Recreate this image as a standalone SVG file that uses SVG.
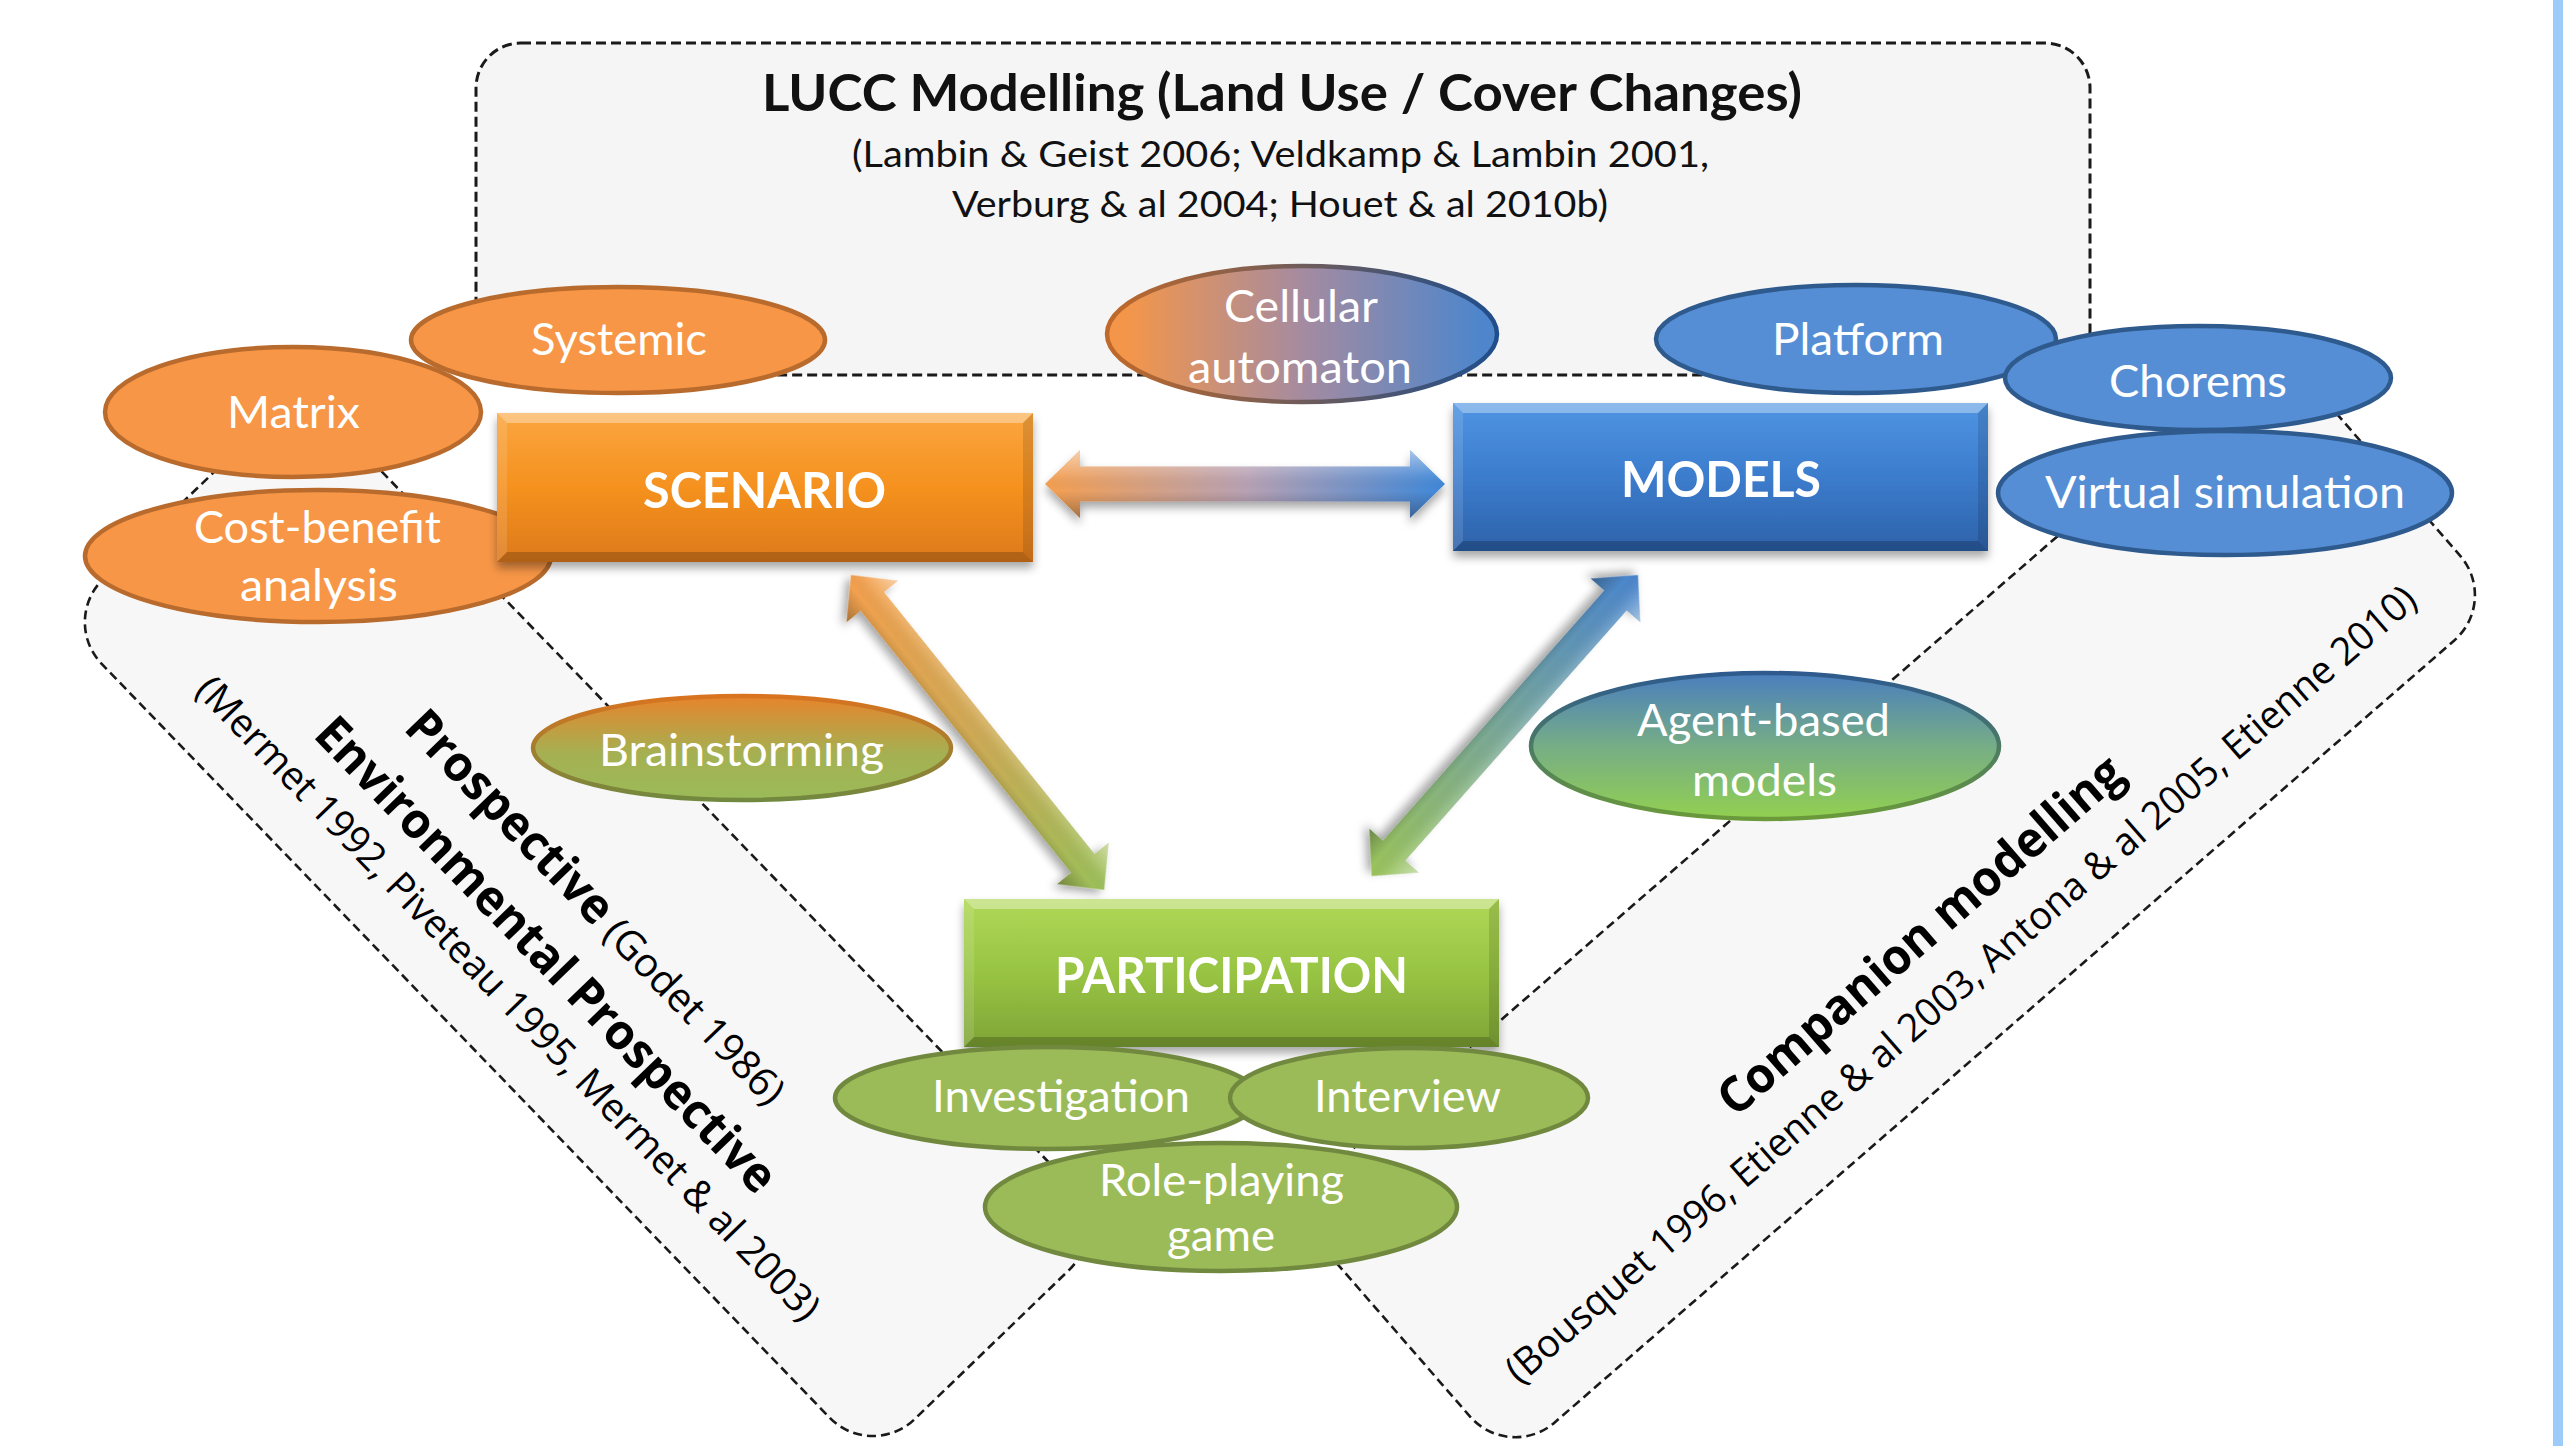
<svg xmlns="http://www.w3.org/2000/svg" width="2575" height="1446" viewBox="0 0 2575 1446">
<defs>
<style>
.lucc{fill:#F5F5F5;stroke:#1a1a1a;stroke-width:3;stroke-dasharray:10 5;}
.zone{fill:#F7F7F7;stroke:#1a1a1a;stroke-width:2.6;stroke-dasharray:9 5;}
.eo{fill:#F79646;stroke:#B86B2D;stroke-width:4.5;}
.eb{fill:#558ED5;stroke:#2E5A8E;stroke-width:4.5;}
.eg{fill:#9BBB59;stroke:#71893F;stroke-width:4.5;}
.lbl{font-family:Lato,'Open Sans',sans-serif;font-size:45px;fill:#ffffff;}
.boxt{font-family:Lato,'Open Sans',sans-serif;font-size:49px;font-weight:bold;fill:#ffffff;}
.ttl{font-family:Lato,'Open Sans',sans-serif;font-size:51px;font-weight:bold;fill:#111111;}
.sub{font-family:Lato,'Open Sans',sans-serif;font-size:36px;fill:#111111;}
.bt{font-family:'Open Sans','Noto Sans',sans-serif;font-weight:bold;font-size:49px;fill:#000000;}
.br{font-family:'Open Sans','Noto Sans',sans-serif;font-size:39px;fill:#000000;}
.hl{fill:#ffffff;fill-opacity:0.35;}
.hs{fill:#ffffff;fill-opacity:0.12;}
.dk{fill:#000000;fill-opacity:0.12;}
.dkb{fill:#000000;fill-opacity:0.2;}
</style>
<filter id="shadow" x="-10%" y="-10%" width="120%" height="130%">
<feDropShadow dx="0" dy="6" stdDeviation="5" flood-color="#000000" flood-opacity="0.35"/>
</filter>
<linearGradient id="gScen" x1="0" y1="0" x2="0" y2="1"><stop offset="0" stop-color="#FBA63F"/><stop offset="0.5" stop-color="#F5911F"/><stop offset="1" stop-color="#DD7A1D"/></linearGradient>
<linearGradient id="gMod" x1="0" y1="0" x2="0" y2="1"><stop offset="0" stop-color="#4F95E3"/><stop offset="0.5" stop-color="#3C7CCD"/><stop offset="1" stop-color="#2D62A9"/></linearGradient>
<linearGradient id="gPar" x1="0" y1="0" x2="0" y2="1"><stop offset="0" stop-color="#B0D857"/><stop offset="0.5" stop-color="#98C443"/><stop offset="1" stop-color="#7FA437"/></linearGradient>
<linearGradient id="gCell" x1="0" y1="0" x2="1" y2="0"><stop offset="0.05" stop-color="#F4964A"/><stop offset="0.5" stop-color="#A58BA0"/><stop offset="0.95" stop-color="#4F86CB"/></linearGradient>
<linearGradient id="gCellS" x1="0" y1="0" x2="1" y2="0"><stop offset="0" stop-color="#C0692A"/><stop offset="1" stop-color="#1F4E8C"/></linearGradient>
<linearGradient id="gBrain" x1="0" y1="0" x2="0" y2="1"><stop offset="0" stop-color="#E7842C"/><stop offset="0.55" stop-color="#A5B052"/><stop offset="1" stop-color="#9BBB59"/></linearGradient>
<linearGradient id="gBrainS" x1="0" y1="0" x2="0" y2="1"><stop offset="0" stop-color="#D9731F"/><stop offset="1" stop-color="#71893F"/></linearGradient>
<linearGradient id="gAgent" x1="0" y1="0" x2="0" y2="1"><stop offset="0" stop-color="#4A7EBE"/><stop offset="0.5" stop-color="#76AD86"/><stop offset="1" stop-color="#92D050"/></linearGradient>
<linearGradient id="gAgentS" x1="0" y1="0" x2="0" y2="1"><stop offset="0" stop-color="#2E5A8E"/><stop offset="1" stop-color="#6A9A3A"/></linearGradient>
<linearGradient id="gAH" x1="0" y1="0" x2="1" y2="0"><stop offset="0" stop-color="#F6A050"/><stop offset="0.5" stop-color="#B9A2B4"/><stop offset="1" stop-color="#3F88DA"/></linearGradient>
<linearGradient id="gAL" x1="0" y1="0" x2="1" y2="0"><stop offset="0" stop-color="#F5A04E"/><stop offset="0.5" stop-color="#CFAA55"/><stop offset="1" stop-color="#9BC05A"/></linearGradient>
<linearGradient id="gAR" x1="0" y1="0" x2="1" y2="0"><stop offset="0" stop-color="#4A85CF"/><stop offset="0.5" stop-color="#78A79A"/><stop offset="1" stop-color="#9BC45A"/></linearGradient>
<linearGradient id="shade" x1="0" y1="0" x2="0" y2="1"><stop offset="0" stop-color="#ffffff" stop-opacity="0.5"/><stop offset="0.35" stop-color="#ffffff" stop-opacity="0.1"/><stop offset="0.6" stop-color="#000000" stop-opacity="0"/><stop offset="1" stop-color="#000000" stop-opacity="0.3"/></linearGradient>
</defs>
<rect x="0" y="0" width="2575" height="1446" fill="#ffffff"/>
<rect x="2553" y="0" width="10" height="1446" fill="#9DCBFA"/>

<g id="lucc">
<rect class="lucc" x="476" y="43" width="1614" height="332" rx="45"/>
<text class="ttl" x="762" y="111" textLength="1040" lengthAdjust="spacingAndGlyphs">LUCC Modelling (Land Use / Cover Changes)</text>
<text class="sub" x="852" y="167" textLength="857" lengthAdjust="spacingAndGlyphs">(Lambin &amp; Geist 2006; Veldkamp &amp; Lambin 2001,</text>
<text class="sub" x="952" y="217" textLength="656" lengthAdjust="spacingAndGlyphs">Verburg &amp; al 2004; Houet &amp; al 2010b)</text>
</g>

<g id="prospective" transform="translate(301,388) rotate(46)">
<rect class="zone" x="0" y="0" width="1168" height="335" rx="60"/>
<text class="bt" x="316" y="164" textLength="276" lengthAdjust="spacingAndGlyphs">Prospective</text>
<text class="br" x="602" y="164" style="font-size:40px" textLength="240" lengthAdjust="spacingAndGlyphs">(Godet 1986)</text>
<text class="bt" x="258" y="234" textLength="640" lengthAdjust="spacingAndGlyphs">Environmental Prospective</text>
<text class="br" x="144" y="288" textLength="878" lengthAdjust="spacingAndGlyphs">(Mermet 1992, Piveteau 1995, Mermet &amp; al 2003)</text>
</g>

<g id="companion" transform="translate(1287,1206) rotate(-41)">
<rect class="zone" x="0" y="0" width="1312" height="339" rx="60"/>
<text class="bt" x="396" y="228" textLength="519" lengthAdjust="spacingAndGlyphs">Companion modelling</text>
<text class="br" x="58" y="288" textLength="1192" lengthAdjust="spacingAndGlyphs">(Bousquet 1996, Etienne &amp; al 2003, Antona &amp; al 2005, Etienne 2010)</text>
</g>

<g id="connectors">
<g transform="translate(1045,484)" filter="url(#shadow)">
<path d="M0,0 L35,-34 L35,-17.5 L365,-17.5 L365,-34 L400,0 L365,34 L365,17.5 L35,17.5 L35,34 Z" fill="url(#gAH)"/>
<path d="M0,0 L35,-34 L35,-17.5 L365,-17.5 L365,-34 L400,0 L365,34 L365,17.5 L35,17.5 L35,34 Z" fill="url(#shade)"/>
</g>
<g transform="translate(851,575) rotate(51.2)" filter="url(#shadow)">
<path d="M0,0 L34,-33 L34,-15 L370,-15 L370,-33 L404,0 L370,33 L370,15 L34,15 L34,33 Z" fill="url(#gAL)"/>
<path d="M0,0 L34,-33 L34,-15 L370,-15 L370,-33 L404,0 L370,33 L370,15 L34,15 L34,33 Z" fill="url(#shade)"/>
</g>
<g transform="translate(1638,575) rotate(131.5)" filter="url(#shadow)">
<path d="M0,0 L34,-33 L34,-15 L368,-15 L368,-33 L402,0 L368,33 L368,15 L34,15 L34,33 Z" fill="url(#gAR)"/>
<path d="M0,0 L34,-33 L34,-15 L368,-15 L368,-33 L402,0 L368,33 L368,15 L34,15 L34,33 Z" fill="url(#shade)"/>
</g>
</g>

<g id="matrix"><ellipse class="eo" cx="293" cy="412" rx="188" ry="65"/><text class="lbl" x="227" y="428" textLength="133" lengthAdjust="spacingAndGlyphs">Matrix</text></g>
<g id="systemic"><ellipse class="eo" cx="618" cy="340" rx="207" ry="53"/><text class="lbl" x="531" y="355" textLength="176" lengthAdjust="spacingAndGlyphs">Systemic</text></g>
<g id="costbenefit"><ellipse class="eo" cx="318" cy="556" rx="233" ry="66"/><text class="lbl" x="194" y="543" textLength="247" lengthAdjust="spacingAndGlyphs">Cost-benefit</text><text class="lbl" x="240" y="601" textLength="158" lengthAdjust="spacingAndGlyphs">analysis</text></g>

<g id="scenario" filter="url(#shadow)">
<rect x="497" y="413" width="536" height="149" fill="url(#gScen)"/>
<polygon class="hl" points="497,413 1033,413 1023,423 507,423"/>
<polygon class="hs" points="497,413 507,423 507,552 497,562"/>
<polygon class="dk" points="1033,413 1033,562 1023,552 1023,423"/>
<polygon class="dkb" points="497,562 507,552 1023,552 1033,562"/>
<text class="boxt" x="643" y="508" textLength="243" lengthAdjust="spacingAndGlyphs">SCENARIO</text>
</g>

<g id="models" filter="url(#shadow)">
<rect x="1453" y="403" width="535" height="148" fill="url(#gMod)"/>
<polygon class="hl" points="1453,403 1988,403 1978,413 1463,413"/>
<polygon class="hs" points="1453,403 1463,413 1463,541 1453,551"/>
<polygon class="dk" points="1988,403 1988,551 1978,541 1978,413"/>
<polygon class="dkb" points="1453,551 1463,541 1978,541 1988,551"/>
<text class="boxt" x="1621" y="497" textLength="200" lengthAdjust="spacingAndGlyphs">MODELS</text>
</g>

<g id="participation" filter="url(#shadow)">
<rect x="964" y="899" width="535" height="148" fill="url(#gPar)"/>
<polygon class="hl" points="964,899 1499,899 1489,909 974,909"/>
<polygon class="hs" points="964,899 974,909 974,1037 964,1047"/>
<polygon class="dk" points="1499,899 1499,1047 1489,1037 1489,909"/>
<polygon class="dkb" points="964,1047 974,1037 1489,1037 1499,1047"/>
<text class="boxt" x="1055" y="993" textLength="353" lengthAdjust="spacingAndGlyphs">PARTICIPATION</text>
</g>

<g id="cellular"><ellipse cx="1302" cy="334" rx="195" ry="68" fill="url(#gCell)" stroke="url(#gCellS)" stroke-width="4.5"/><text class="lbl" x="1224" y="322" textLength="154" lengthAdjust="spacingAndGlyphs">Cellular</text><text class="lbl" x="1188" y="383" textLength="224" lengthAdjust="spacingAndGlyphs">automaton</text></g>

<g id="platform"><ellipse class="eb" cx="1856" cy="339" rx="200" ry="54"/><text class="lbl" x="1772" y="355" textLength="172" lengthAdjust="spacingAndGlyphs">Platform</text></g>
<g id="chorems"><ellipse class="eb" cx="2198" cy="378" rx="193" ry="52"/><text class="lbl" x="2109" y="397" textLength="178" lengthAdjust="spacingAndGlyphs">Chorems</text></g>
<g id="virtual"><ellipse class="eb" cx="2225" cy="493" rx="227" ry="62"/><text class="lbl" x="2045" y="508" textLength="360" lengthAdjust="spacingAndGlyphs">Virtual simulation</text></g>

<g id="brainstorming"><ellipse cx="742" cy="748" rx="209" ry="52" fill="url(#gBrain)" stroke="url(#gBrainS)" stroke-width="4.5"/><text class="lbl" x="599" y="766" textLength="285" lengthAdjust="spacingAndGlyphs">Brainstorming</text></g>
<g id="agent"><ellipse cx="1765" cy="746" rx="234" ry="73" fill="url(#gAgent)" stroke="url(#gAgentS)" stroke-width="4.5"/><text class="lbl" x="1637" y="736" textLength="253" lengthAdjust="spacingAndGlyphs">Agent-based</text><text class="lbl" x="1692" y="796" textLength="145" lengthAdjust="spacingAndGlyphs">models</text></g>

<g id="investigation"><ellipse class="eg" cx="1047" cy="1098" rx="212" ry="51"/><text class="lbl" x="932" y="1112" textLength="258" lengthAdjust="spacingAndGlyphs">Investigation</text></g>
<g id="interview"><ellipse class="eg" cx="1409" cy="1098" rx="179" ry="50"/><text class="lbl" x="1314" y="1112" textLength="187" lengthAdjust="spacingAndGlyphs">Interview</text></g>
<g id="roleplaying"><ellipse class="eg" cx="1221" cy="1207" rx="236" ry="64"/><text class="lbl" x="1099" y="1196" textLength="245" lengthAdjust="spacingAndGlyphs">Role-playing</text><text class="lbl" x="1167" y="1251" textLength="108" lengthAdjust="spacingAndGlyphs">game</text></g>
</svg>
